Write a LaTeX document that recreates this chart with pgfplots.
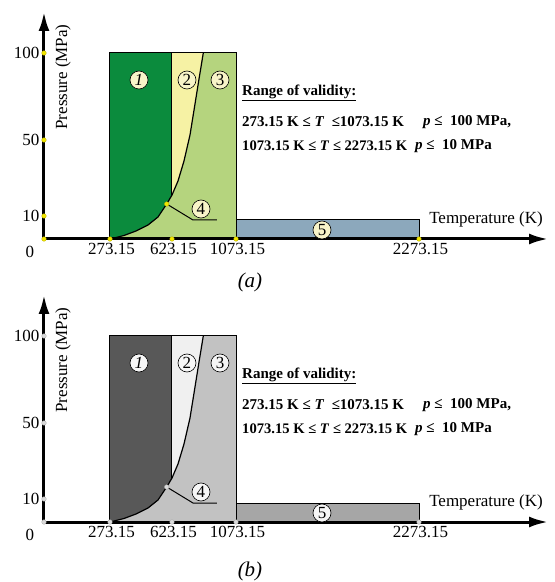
\documentclass[border=0pt]{standalone}
\usepackage{pgfplots}
\pgfplotsset{compat=1.18}
\usepackage{fontspec}
\setmainfont{Liberation Serif}
\usetikzlibrary{arrows.meta}
\definecolor{dgA}{HTML}{0B8B3D}
\definecolor{ylA}{HTML}{F6F2A4}
\definecolor{lgA}{HTML}{B5D47E}
\definecolor{blA}{HTML}{8CA8BC}
\definecolor{dotA}{HTML}{F2E600}
\definecolor{cirA}{HTML}{F8F4C8}
\definecolor{dgB}{HTML}{585858}
\definecolor{ylB}{HTML}{F0F0F0}
\definecolor{lgB}{HTML}{C2C2C2}
\definecolor{blB}{HTML}{A6A6A6}
\definecolor{dotB}{HTML}{DADADA}
\definecolor{cirB}{HTML}{F6F6F6}
\newcommand{\fs}[1]{\fontsize{#1}{#1}\selectfont}
\newcommand{\panel}[9]{%
\begin{axis}[at={(44pt,#1)}, anchor=origin, x=1pt, y=1pt,
  xmin=0, xmax=504, ymin=0, ymax=227, clip=false,
  axis lines=left,
  axis line style={draw=none},
  major tick length=0pt,
  xtick={66,128,192,375}, xticklabels={273.15,623.15,1073.15,2273.15},
  ytick={23,99,186}, yticklabels={10,50,100},
  tick label style={font=\fs{17}},
  xticklabel style={yshift=-1pt, xshift=1.5pt},
  yticklabel style={xshift=-1pt}]
\addplot[fill=#4, draw=none] coordinates {(66,0)(192,0)(192,186)(66,186)} -- cycle;
\addplot[fill=#2, draw=none] coordinates {(66,0)(80,3.5)(92,8)(104,14)(114,22)(122.7,35)(128,44)(128,186)(66,186)} -- cycle;
\addplot[fill=#3, draw=none] coordinates {(128,44)(134,58)(140,78)(146,104)(151,135)(155,160)(159.3,186)(128,186)} -- cycle;
\addplot[fill=#5, draw=black, line width=1pt] coordinates {(192,0)(375,0)(375,19)(192,19)} -- cycle;
\addplot[draw=black, line width=1pt] coordinates {(66,0)(66,186)(192,186)(192,0)};
\addplot[draw=black, line width=1pt] coordinates {(128,44)(128,186)};
\addplot[draw=black, line width=1.2pt] coordinates {(66,0)(80,3.5)(92,8)(104,14)(114,22)(122.7,35)(128,44)(134,58)(140,78)(146,104)(151,135)(155,160)(159.3,186)};
\addplot[draw=black, line width=1pt] coordinates {(122.7,35)(149,19)(173,19)};
\draw[line width=3pt, -{Latex[length=19pt,width=11pt]}] (axis cs:0,0) -- (axis cs:504,0);
\draw[line width=3pt, -{Latex[length=19pt,width=11pt]}] (axis cs:0,0) -- (axis cs:0,227);
\addplot[only marks, mark=*, mark size=2.3pt, mark options={fill=#6, draw=#6!75!black, line width=0.3pt}] coordinates {(0,0)(0,23)(0,99)(0,186)(66,0)(128,0)(192,0)(375,0)(122.7,35)};
\node[circle, draw=black, line width=0.6pt, fill=#7, inner sep=0pt, minimum size=18pt, font=\fs{17}] at (axis cs:95,159) {\textit{1}};
\node[circle, draw=black, line width=0.6pt, fill=#7, inner sep=0pt, minimum size=18pt, font=\fs{17}] at (axis cs:143,159) {2};
\node[circle, draw=black, line width=0.6pt, fill=#7, inner sep=0pt, minimum size=18pt, font=\fs{17}] at (axis cs:176,159) {3};
\node[circle, draw=black, line width=0.6pt, fill=#7, inner sep=0pt, minimum size=18pt, font=\fs{17}] at (axis cs:157,30) {4};
\node[circle, draw=black, line width=0.6pt, fill=#7, inner sep=0pt, minimum size=18pt, font=\fs{17}] at (axis cs:278,9) {5};
\node[font=\fs{17}] at (axis cs:-14,-13) {0};
\node[font=\fs{17}, rotate=90] at (axis cs:19,162) {Pressure (MPa)};
\node[font=\fs{17}] at (axis cs:442,20) {Temperature (K)};
\node[font=\fs{15}\bfseries, anchor=west, inner sep=0pt] at (axis cs:198,146) {\underline{Range of validity:}};
\node[font=\fs{15}\bfseries, anchor=west, inner sep=0pt] at (axis cs:198,117) {273.15 K ≤ \textit{T} \ ≤1073.15 K};
\node[font=\fs{15}\bfseries, anchor=west, inner sep=0pt] at (axis cs:379,117) {\textit{p} ≤ \ 100 MPa,};
\node[font=\fs{14.6}\bfseries, anchor=west, inner sep=0pt] at (axis cs:198,93) {1073.15 K ≤ \textit{T} ≤ 2273.15 K};
\node[font=\fs{15}\bfseries, anchor=west, inner sep=0pt] at (axis cs:371,93) {\textit{p} ≤ \ 10 MPa};
\node[font=\fs{21}] at (axis cs:206,#8) {\textit{#9}};
\end{axis}}
\begin{document}
\begin{tikzpicture}[x=1pt,y=1pt]
\path[use as bounding box] (0,0) rectangle (555,582);
\panel{343pt}{dgA}{ylA}{lgA}{blA}{dotA}{cirA}{-43}{(a)}
\panel{60pt}{dgB}{ylB}{lgB}{blB}{dotB}{cirB}{-49}{(b)}
\end{tikzpicture}
\end{document}
